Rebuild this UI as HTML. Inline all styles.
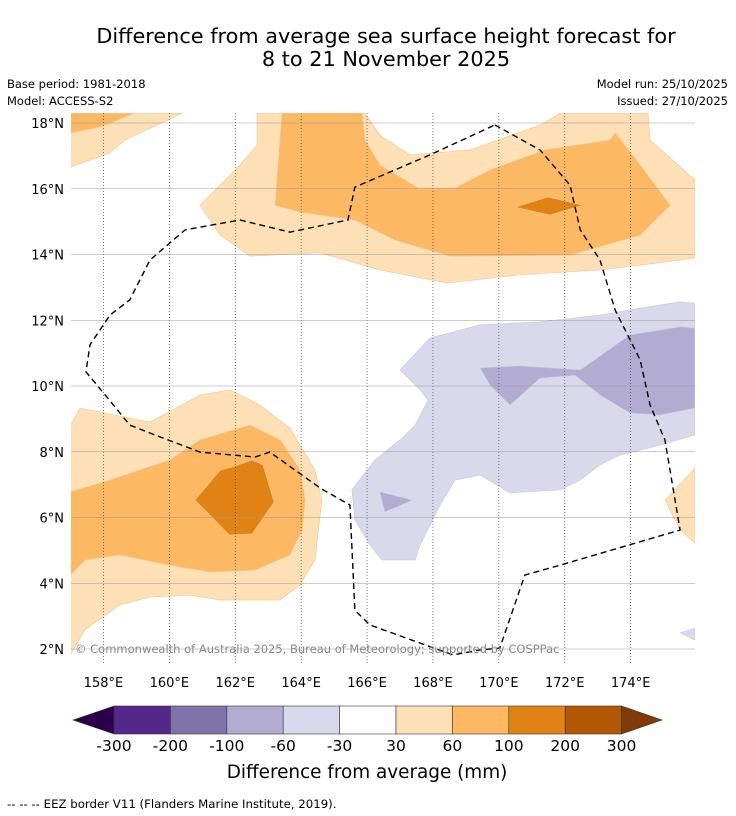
<!DOCTYPE html>
<html><head><meta charset="utf-8"><style>
body{margin:0;background:#fff;font-family:"DejaVu Sans",sans-serif}
svg{display:block;font-family:"DejaVu Sans",sans-serif}
</style></head><body>
<svg id="c" width="736" height="816" xmlns="http://www.w3.org/2000/svg">
<text x="386" y="43" font-size="20.8" text-anchor="middle">Difference from average sea surface height forecast for</text>
<text x="386" y="66" font-size="20.8" text-anchor="middle">8 to 21 November 2025</text>
<text x="7" y="88" font-size="11.5">Base period: 1981-2018</text>
<text x="7" y="105" font-size="11.5">Model: ACCESS-S2</text>
<text x="728" y="88" font-size="11.5" text-anchor="end">Model run: 25/10/2025</text>
<text x="728" y="105" font-size="11.5" text-anchor="end">Issued: 27/10/2025</text>
<defs><clipPath id="mc"><rect x="71" y="113" width="624" height="552"/></clipPath></defs>
<g id="map" clip-path="url(#mc)"></g>
<g id="grid"></g>
<g id="eez" clip-path="url(#mc)"></g>
<text x="75" y="653" font-size="11.5" fill="#888">© Commonwealth of Australia 2025, Bureau of Meteorology; supported by COSPPac</text>
<g id="ticks"></g>
<g id="cbar"></g>
<text x="367" y="778" font-size="18.4" text-anchor="middle">Difference from average (mm)</text>
<text x="7" y="808" font-size="11.75">-- -- -- EEZ border V11 (Flanders Marine Institute, 2019).</text>
</svg>
<script>
const lonTicks=[158,160,162,164,166,168,170,172,174];
const latTicks=[18,16,14,12,10,8,6,4,2];
const cbLabels=["-300","-200","-100","-60","-30","30","60","100","200","300"];
const cbColors=["#542788","#8073ac","#b2abd2","#d8daeb","#ffffff","#fee0b6","#fdb863","#e08214","#b35806"];
const cbEnds=["#2d004b","#7f3b08"];
const polyLevels=["#fee0b6","#fdb863","#fee0b6","#fdb863","#e08214","#fee0b6","#fdb863","#e08214","#d8daeb","#b2abd2","#b2abd2","#fee0b6","#d8daeb"];
const polys=[
[[157,18.3],[160.4,18.3],[158.65,17.48],[158.2,17.09],[157,16.66]],
[[157,18.3],[158.95,18.3],[157.9,17.88],[157,17.7]],
[[162.66,18.3],[165.94,18.3],[166.39,17.63],[167.3,17.03],[169.12,17.18],[171.25,17.94],[171.86,18.3],[174.53,18.3],[174.59,17.48],[175.95,16.27],[175.95,13.9],[175.04,13.77],[173.07,13.53],[170.64,13.38],[168.43,13.13],[166.39,13.53],[164.57,14.05],[162.45,13.95],[161.54,14.59],[160.93,15.5],[161.54,16.11],[162.14,16.72],[162.66,17.33]],
[[163.42,18.3],[165.85,18.3],[165.94,17.48],[166.39,16.72],[167.55,16.02],[168.67,16.02],[169.73,16.57],[171.4,17.18],[173.37,17.48],[173.53,17.7],[174.29,16.72],[175.2,15.5],[174.29,14.59],[172.16,13.98],[168.52,13.95],[166.85,14.44],[165.63,15.05],[163.97,15.29],[163.21,15.5]],
[[170.49,15.44],[171.49,15.75],[172.55,15.5],[171.55,15.2]],
[[157,8.81],[157.29,9.33],[159.41,8.9],[160.93,9.73],[161.84,9.88],[162.75,9.42],[163.66,8.72],[164.42,7.44],[164.63,6.53],[164.42,4.71],[163.97,3.95],[163.36,3.49],[161.54,3.49],[160.63,3.64],[159.41,3.58],[158.5,3.34],[157.44,2.58],[157,1.82]],
[[157,6.78],[158.2,7.14],[160.02,7.75],[160.93,8.36],[162.45,8.81],[163.36,8.36],[163.97,7.44],[164.12,6.53],[164.03,5.62],[163.66,4.86],[162.6,4.4],[161.23,4.34],[160.02,4.55],[158.5,4.86],[157.44,4.71],[157,4.25]],
[[160.78,6.53],[161.54,7.44],[161.93,7.54],[162.51,7.75],[162.84,7.6],[163.18,6.47],[162.51,5.5],[161.82,5.47]],
[[167.0,10.49],[167.91,11.46],[169.43,11.86],[171.25,11.95],[173.07,12.16],[174.29,12.37],[175.5,12.56],[175.95,12.52],[175.95,8.51],[174.89,8.2],[173.68,7.9],[173.07,7.6],[172.47,7.14],[171.86,6.84],[170.34,6.75],[169.43,7.29],[168.67,7.14],[168.22,6.38],[167.61,5.16],[167.46,4.71],[166.45,4.71],[166.09,5.16],[165.63,5.92],[165.54,6.84],[166.24,7.75],[167.0,8.36],[167.46,8.81],[167.85,9.57],[167.61,9.88]],
[[169.43,10.55],[170.64,10.61],[172.47,10.49],[173.98,11.55],[175.5,11.8],[175.95,11.76],[175.95,9.33],[174.89,9.12],[173.98,9.18],[173.07,9.73],[172.31,10.33],[171.25,10.24],[170.34,9.42],[169.73,10.03]],
[[166.39,6.78],[167.37,6.53],[166.54,6.17]],
[[175.95,7.5],[175.04,6.53],[175.5,5.62],[175.95,5.22]],
[[175.5,2.49],[175.95,2.64],[175.95,2.27]]
];
const eezLine=[[169.88,17.94],[171.25,17.18],[172.16,16.11],[172.47,14.75],[173.07,13.83],[173.53,12.31],[174.29,10.79],[174.59,9.42],[175.04,8.36],[175.5,5.62],[171.86,4.55],[170.79,4.25],[170.03,2.03],[169.43,1.97],[168.61,1.82],[167.61,2.18],[166.09,2.73],[165.63,3.18],[165.48,6.38],[164.57,6.9],[163.05,7.99],[162.6,7.84],[160.93,7.99],[159.41,8.57],[158.8,8.81],[158.05,9.73],[157.47,10.43],[157.59,11.25],[158.2,12.16],[158.8,12.62],[159.41,13.83],[160.48,14.75],[162.14,15.05],[163.66,14.68],[165.42,15.05],[165.63,16.05],[167.91,17.03],[169.88,17.94]];

const X=lon=>70.5+(lon-157)*32.95;
const Y=lat=>123+(18-lat)*32.875;
const NS="http://www.w3.org/2000/svg";
function mk(tag,attrs,parent){const e=document.createElementNS(NS,tag);for(const k in attrs)e.setAttribute(k,attrs[k]);parent.appendChild(e);return e;}
const map=document.getElementById('map'),grid=document.getElementById('grid'),eez=document.getElementById('eez'),ticks=document.getElementById('ticks'),cbar=document.getElementById('cbar');
polys.forEach((p,i)=>{
 const e=mk('polygon',{points:p.map(q=>X(q[0])+','+Y(q[1])).join(' '),fill:polyLevels[i],stroke:polyLevels[i]==="#d8daeb"||polyLevels[i]==="#b2abd2"?"#c8c8dc":"#f0c890","stroke-width":0.6},map);
 
 
});
lonTicks.forEach(l=>{
 const g=mk('line',{x1:X(l),x2:X(l),y1:113,y2:665,stroke:"#444","stroke-width":0.7,"stroke-dasharray":"1,2"},grid);
 
 
 const t=mk('text',{x:X(l),y:687,"font-size":13,"text-anchor":"middle"},ticks);t.textContent=l+"°E";
 
 
});
latTicks.forEach(l=>{
 const g=mk('line',{x1:71,x2:695,y1:Y(l),y2:Y(l),stroke:"#999","stroke-width":0.6},grid);
 
 
 const t=mk('text',{x:64,y:Y(l)+5,"font-size":13,"text-anchor":"end"},ticks);t.textContent=l+"°N";
 
 
});
const el=mk('polyline',{points:eezLine.map(q=>X(q[0])+','+Y(q[1])).join(' '),fill:"none",stroke:"#000","stroke-width":1.4,"stroke-dasharray":"6,4"},eez);


const cx0=114,cw=56.4,cy=706,ch=28;
const lt=mk('polygon',{points:`73,${cy+ch/2} ${cx0},${cy} ${cx0},${cy+ch}`,fill:cbEnds[0],stroke:"#333","stroke-width":0.6},cbar);


cbColors.forEach((c,i)=>{
 const r=mk('rect',{x:cx0+i*cw,y:cy,width:cw,height:ch,fill:c,stroke:"#333","stroke-width":0.6},cbar);
 
 
});
const xe=cx0+cbColors.length*cw;
const rt=mk('polygon',{points:`${xe},${cy} 662,${cy+ch/2} ${xe},${cy+ch}`,fill:cbEnds[1],stroke:"#333","stroke-width":0.6},cbar);


cbLabels.forEach((s,i)=>{
 const t=mk('text',{x:cx0+i*cw,y:751,"font-size":15.5,"text-anchor":"middle"},cbar);t.textContent=s;
 
 
});
</script>
</body></html>
